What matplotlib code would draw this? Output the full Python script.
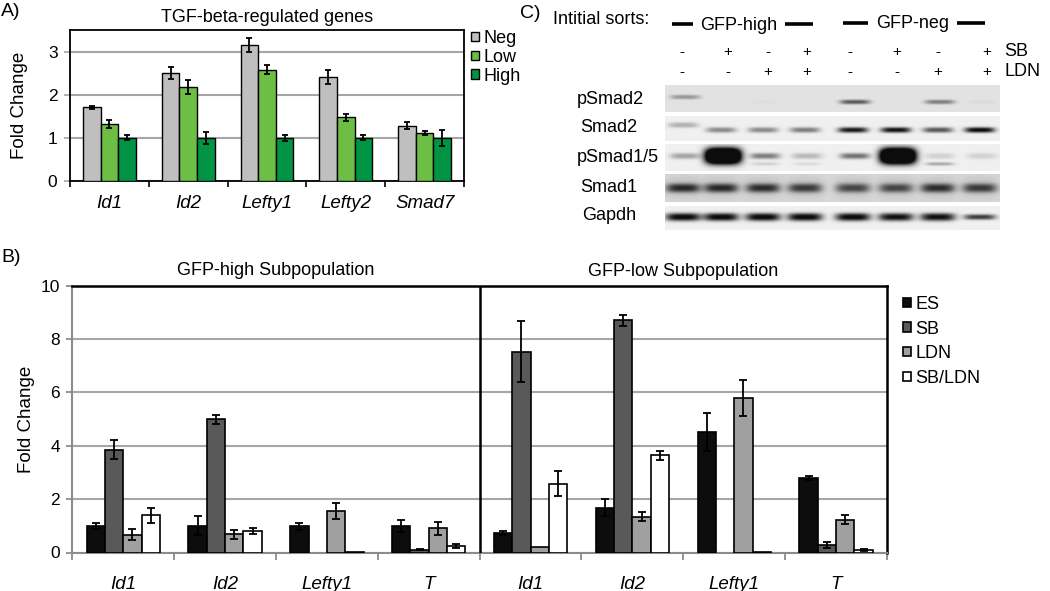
import numpy as np
import matplotlib
matplotlib.use("Agg")
import matplotlib.pyplot as plt

plt.rcParams['font.family'] = ['Liberation Sans', 'DejaVu Sans']

# Panel A data: TGF-beta-regulated genes
genes_a = ['Id1', 'Id2', 'Lefty1', 'Lefty2', 'Smad7']
groups_a = ['Neg', 'Low', 'High']
neg_a = [1.71, 2.51, 3.15, 2.41, 1.28]
low_a = [1.33, 2.18, 2.58, 1.48, 1.11]
high_a = [1.00, 1.00, 1.00, 1.00, 1.00]
neg_err = [0.04, 0.14, 0.16, 0.17, 0.085]
low_err = [0.09, 0.17, 0.10, 0.08, 0.04]
high_err = [0.06, 0.14, 0.07, 0.06, 0.18]

# Panel B data: GFP-high (first 4) and GFP-low (last 4) subpopulations
genes_b = ['Id1', 'Id2', 'Lefty1', 'T', 'Id1', 'Id2', 'Lefty1', 'T']
treat_b = ['ES', 'SB', 'LDN', 'SB/LDN']
es_b = [0.99, 1.01, 0.98, 0.98, 0.72, 1.68, 4.52, 2.78]
sb_b = [3.85, 4.99, np.nan, 0.11, 7.52, 8.70, np.nan, 0.29]
ldn_b = [0.67, 0.69, 1.55, 0.90, 0.19, 1.34, 5.80, 1.22]
sbldn_b = [1.40, 0.81, 0.02, 0.23, 2.58, 3.64, 0.02, 0.10]
es_err = [0.12, 0.35, 0.12, 0.22, 0.08, 0.31, 0.72, 0.08]
sb_err = [0.36, 0.16, np.nan, 0.03, 1.15, 0.20, np.nan, 0.12]
ldn_err = [0.20, 0.17, 0.30, 0.23, np.nan, 0.17, 0.67, 0.17]
sbldn_err = [0.28, 0.11, np.nan, 0.07, 0.47, 0.17, np.nan, 0.03]

# Panel C: western blot, band darkness per lane (0 = none, 1 = saturated)
sorts = ['GFP-high', 'GFP-neg']
sb_signs = ['-', '+', '-', '+', '-', '+', '-', '+']
ldn_signs = ['-', '-', '+', '+', '-', '-', '+', '+']
blot_rows = ['pSmad2', 'Smad2', 'pSmad1/5', 'Smad1', 'Gapdh']
psmad2 = [0.3, 0.0, 0.02, 0.0, 0.55, 0.0, 0.4, 0.03]
smad2 = [0.25, 0.4, 0.4, 0.45, 0.85, 0.88, 0.6, 0.92]
psmad15 = [0.3, 1.0, 0.45, 0.22, 0.5, 1.0, 0.12, 0.12]
psmad15_lower = [0.0, 0.0, 0.12, 0.08, 0.0, 0.0, 0.28, 0.0]
smad1 = [0.62, 0.62, 0.6, 0.55, 0.5, 0.5, 0.6, 0.55]
gapdh = [0.92, 0.92, 0.92, 0.92, 0.92, 0.88, 0.88, 0.7]

W, H = 1050, 591
fig = plt.figure(figsize=(W / 100, H / 100), dpi=100)

def px_axes(x0, y0, x1, y1):
    return fig.add_axes([x0 / W, 1 - y1 / H, (x1 - x0) / W, (y1 - y0) / H])

# ---------------- Panel A ----------------
axA = px_axes(70, 30, 464, 181)
colors_a = ['#bfbfbf', '#6cbe45', '#009444']
bw = 0.223
xa = np.arange(len(genes_a))
for j, (vals, errs) in enumerate([(neg_a, neg_err), (low_a, low_err), (high_a, high_err)]):
    axA.bar(xa + (j - 1) * bw, vals, bw, color=colors_a[j], edgecolor='black', linewidth=1,
            label=groups_a[j], zorder=3)
    axA.errorbar(xa + (j - 1) * bw, vals, yerr=errs, fmt='none', ecolor='black',
                 elinewidth=1.3, capsize=2.3, capthick=1.3, zorder=4)
axA.set_xlim(-0.5, len(genes_a) - 0.5)
axA.set_ylim(0, 3.5)
axA.set_yticks([0, 1, 2, 3])
axA.yaxis.grid(True, color='#a6a6a6', linewidth=1.5, zorder=0)
axA.set_xticks(xa)
axA.set_xticklabels(genes_a, fontstyle='italic', fontsize=13.5)
axA.set_xticks(np.arange(len(genes_a) + 1) - 0.5, minor=True)
axA.tick_params(axis='x', which='major', length=0, pad=10)
axA.tick_params(axis='x', which='minor', length=4, width=1.2, direction='out')
axA.tick_params(axis='y', length=4, width=1.2, colors='#a6a6a6', labelcolor='black', labelsize=12.5, pad=5)
for s in axA.spines.values():
    s.set_linewidth(1.3)
    s.set_color('black')
axA.set_ylabel('Fold Change', fontsize=13.5)
axA.yaxis.label.set_verticalalignment('center')
axA.yaxis.set_label_coords(-50 / 394, 0.5)
axA.set_title('TGF-beta-regulated genes', fontsize=13, pad=6)
axA.legend(loc='upper left', bbox_to_anchor=(471 / W, 1 - 30 / H), bbox_transform=fig.transFigure,
           frameon=False, fontsize=13, handlelength=0.45, handleheight=0.45, handletextpad=0.25,
           labelspacing=0.1, borderaxespad=0, borderpad=0)

# ---------------- Panel B ----------------
axB = px_axes(72.3, 285.5, 887, 552.5)
colors_b = ['#0d0d0d', '#595959', '#a0a0a0', '#ffffff']
bw = 0.18
xb = np.arange(len(genes_b))
for j, (vals, errs) in enumerate([(es_b, es_err), (sb_b, sb_err), (ldn_b, ldn_err), (sbldn_b, sbldn_err)]):
    axB.bar(xb + (j - 1.5) * bw, vals, bw, color=colors_b[j], edgecolor='black', linewidth=1.2,
            label=treat_b[j], zorder=3)
    axB.errorbar(xb + (j - 1.5) * bw, vals, yerr=errs, fmt='none', ecolor='black',
                 elinewidth=1.3, capsize=2.6, capthick=1.3, zorder=4)
axB.set_xlim(-0.5, len(genes_b) - 0.5)
axB.set_ylim(0, 10)
axB.set_yticks(range(0, 11, 2))
axB.yaxis.grid(True, color='#a6a6a6', linewidth=1.5, zorder=0)
axB.set_xticks(xb)
axB.set_xticklabels(genes_b, fontstyle='italic', fontsize=13.5)
axB.set_xticks(np.arange(len(genes_b) + 1) - 0.5, minor=True)
axB.tick_params(axis='x', which='major', length=0, pad=17)
axB.tick_params(axis='x', which='minor', length=5, width=1.3, direction='out', colors='#8c8c8c')
axB.tick_params(axis='y', length=4, width=1.3, colors='#8c8c8c', labelcolor='black', labelsize=12.5, pad=5)
for side in ['left', 'bottom']:
    axB.spines[side].set_color('#8c8c8c')
    axB.spines[side].set_linewidth(1.5)
for side in ['top', 'right']:
    axB.spines[side].set_color('black')
    axB.spines[side].set_linewidth(1.8)
axB.axvline(3.5, color='black', linewidth=1.8, zorder=5)
axB.set_ylabel('Fold Change', fontsize=13.5)
axB.yaxis.label.set_verticalalignment('center')
axB.yaxis.set_label_coords(-46 / 815, 0.5)
tr = axB.get_xaxis_transform()
axB.text(1.5, 1.055, 'GFP-high Subpopulation', transform=tr, ha='center', va='center', fontsize=13)
axB.text(5.5, 1.052, 'GFP-low Subpopulation', transform=tr, ha='center', va='center', fontsize=13)
axB.legend(loc='upper left', bbox_to_anchor=(903 / W, 1 - 296 / H), bbox_transform=fig.transFigure,
           frameon=False, fontsize=13, handlelength=0.42, handleheight=0.42, handletextpad=0.25,
           labelspacing=0.42, borderaxespad=0, borderpad=0)

# ---------------- Overlay (pixel coordinates): labels and blot ----------------
ov = fig.add_axes([0, 0, 1, 1])
ov.set_xlim(0, W)
ov.set_ylim(H, 0)
ov.axis('off')

ov.text(1, 12, 'A)', fontsize=14, ha='left', va='center')
ov.text(1, 258, 'B)', fontsize=14, ha='left', va='center')
ov.text(520, 13, 'C)', fontsize=14, ha='left', va='center')

ov.text(553, 20, 'Intitial sorts:', fontsize=13, ha='left', va='center')
for (l0, l1, r0, r1, ty), name in zip([(672, 693, 785, 813, 24), (843, 868, 957, 985, 22.5)], sorts):
    ov.plot([l0, l1], [ty, ty], color='black', lw=2.6, solid_capstyle='butt')
    ov.plot([r0, r1], [ty, ty], color='black', lw=2.6, solid_capstyle='butt')
    ov.text((l1 + r0) / 2, ty + 1, name, fontsize=13, ha='center', va='center')

sign_x = [682, 728, 768, 807, 850, 897, 938, 987]
for x, s1, s2 in zip(sign_x, sb_signs, ldn_signs):
    ov.text(x, 52, s1, fontsize=11, ha='center', va='center')
    ov.text(x, 72, s2, fontsize=11, ha='center', va='center')
ov.text(1004, 52, 'SB', fontsize=13, ha='left', va='center')
ov.text(1004, 72, 'LDN', fontsize=13, ha='left', va='center')

lane_x = [683, 721, 763, 805, 853, 896, 938, 980]
bx0, bx1 = 665, 1000

def draw_strip(y0, y1, bg, bands):
    xs = np.linspace(bx0, bx1, 670)
    ys = np.linspace(y0, y1, max(int((y1 - y0) * 3), 10))
    X, Y = np.meshgrid(xs, ys)
    dark = np.full(X.shape, bg)
    for xc, yc, w, h, a in bands:
        dark += a * np.exp(-np.abs((X - xc) / (w / 2)) ** 4) * np.exp(-np.abs((Y - yc) / (h / 2)) ** 2.5)
    img = 1 - np.clip(dark, 0, 0.95)
    ov.imshow(img, cmap='gray', vmin=0, vmax=1, extent=(bx0, bx1, y1, y0),
              aspect='auto', interpolation='bilinear')

# pSmad2
draw_strip(85, 112, 0.11, [(x + 2, 97 if i == 0 else 102, 30, 4.5, a)
                           for i, (x, a) in enumerate(zip(lane_x, psmad2))])
# Smad2
draw_strip(116, 141, 0.06, [(x, 125 if i == 0 else 130, 30, 5.5, a)
                            for i, (x, a) in enumerate(zip(lane_x, smad2))])
# pSmad1/5
bands = []
for x, a, b in zip(lane_x, psmad15, psmad15_lower):
    big = a >= 0.95
    bands.append((x + 2, 156, 36 if big else 30, 16 if big else 6, a * (2.0 if big else 1.0)))
    bands.append((x + 2, 164, 28, 3.5, b))
draw_strip(144, 171, 0.06, bands)
# Smad1
bands = []
for x, a in zip(lane_x, smad1):
    bands.append((x, 188, 34, 9, a))
    bands.append((x, 187, 38, 24, 0.08))
draw_strip(174, 202, 0.15, bands)
# Gapdh
draw_strip(206, 230, 0.06, [(x, 217, 35 if a > 0.8 else 32, 8 if a > 0.8 else 5.5, a)
                            for x, a in zip(lane_x, gapdh)])

for name, y, x in zip(blot_rows, [99, 128, 157, 188, 216], [577, 580, 577, 580, 582]):
    ov.text(x, y, name, fontsize=13, ha='left', va='center')

fig.savefig('out.png', dpi=100)
